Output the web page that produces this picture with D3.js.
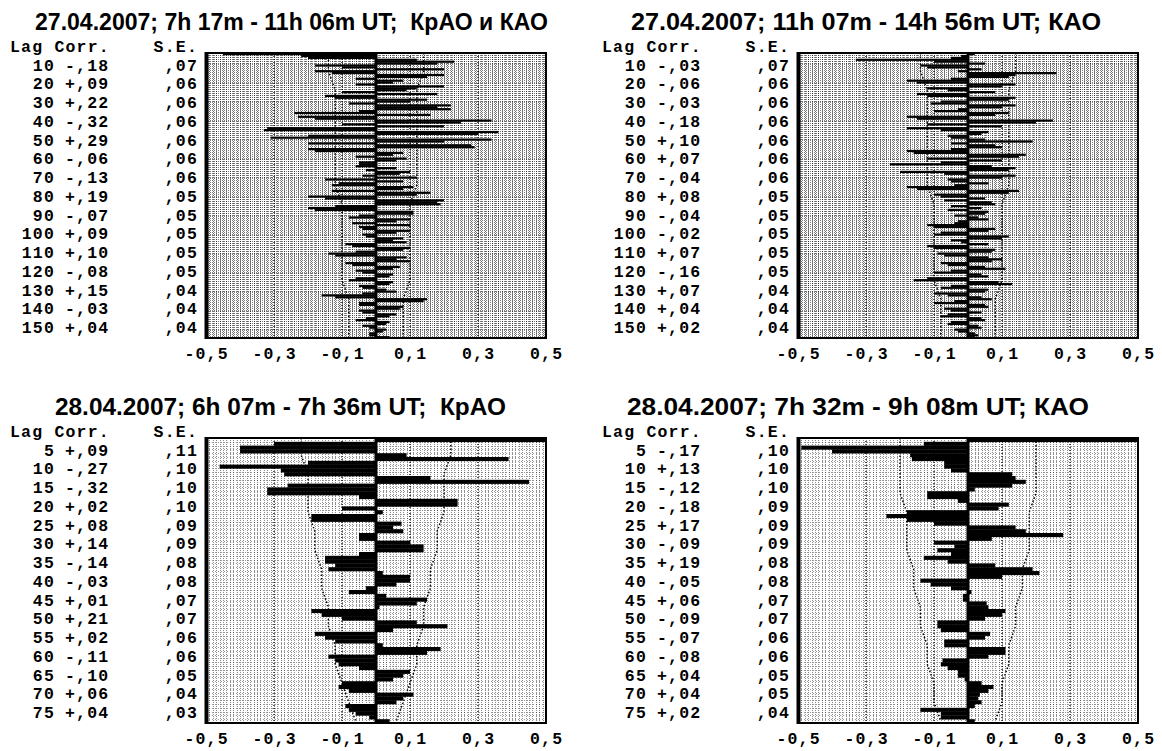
<!DOCTYPE html>
<html>
<head>
<meta charset="utf-8">
<script src="https://cdn.jsdelivr.net/npm/d3@7"></script>
<style>
  body { margin: 0; background: #fff; }
  svg { display: block; }
  .title { font-family: "Liberation Sans", Arial, sans-serif; font-weight: bold; font-size: 24px; white-space: pre; }
  .mono { font-family: "Liberation Mono", "Courier New", monospace; font-weight: bold; font-size: 16.5px; letter-spacing: 1.2px; }
</style>
</head>
<body>
<svg id="chart" width="1162" height="751"></svg>
<script>

// 1. Data

const titleTL = "27.04.2007; 7h 17m - 11h 06m UT;  КрАО и КАО"
const titleTR = "27.04.2007; 11h 07m - 14h 56m UT; КАО"
const titleBL = "28.04.2007; 6h 07m - 7h 36m UT;  КрАО"
const titleBR = "28.04.2007; 7h 32m - 9h 08m UT; КАО"

// autocorrelation per lag (1..150)
const corrTL = [
  -0.45, -0.22, -0.20, 0.12, 0.23, 0.18, -0.18, -0.10, 0.20, -0.18,
  -0.13, 0.20, 0.15, -0.06, 0.08, 0.05, -0.06, 0.20, 0.12, 0.09,
  -0.10, 0.18, -0.15, -0.12, 0.15, 0.10, -0.08, 0.22, 0.18, 0.22,
  -0.05, -0.24, 0.16, -0.23, -0.18, 0.34, 0.25, -0.10, 0.20, -0.32,
  -0.33, 0.36, 0.30, -0.20, -0.31, 0.34, 0.20, -0.20, 0.28, 0.29,
  -0.20, -0.18, 0.08, 0.05, -0.06, 0.09, 0.06, -0.05, -0.05, -0.06,
  0.06, -0.03, 0.10, 0.07, -0.04, 0.12, -0.15, 0.08, -0.11, -0.13,
  0.11, 0.08, -0.13, 0.16, 0.12, -0.20, -0.15, 0.20, 0.18, 0.19,
  -0.12, -0.20, -0.18, 0.11, 0.11, -0.05, -0.08, 0.10, 0.06, -0.07,
  0.10, -0.05, -0.04, 0.10, 0.06, -0.04, -0.03, 0.08, 0.05, 0.09,
  -0.09, -0.07, 0.10, 0.08, -0.06, -0.14, -0.12, 0.09, 0.06, 0.10,
  -0.09, -0.07, 0.07, 0.05, -0.06, -0.04, 0.05, 0.04, -0.06, -0.08,
  0.05, 0.04, -0.05, -0.04, 0.03, 0.06, -0.04, -0.16, -0.12, 0.15,
  0.14, -0.05, -0.05, 0.08, 0.07, -0.05, -0.04, 0.06, 0.04, -0.03,
  -0.06, 0.04, 0.03, -0.04, -0.02, 0.03, 0.02, -0.02, -0.02, 0.04
]
const corrTR = [
  0.02, -0.02, -0.05, -0.33, -0.10, 0.05, -0.14, -0.12, 0.04, -0.03,
  0.26, 0.14, 0.12, -0.05, -0.18, -0.15, 0.14, 0.10, -0.12, -0.06,
  0.08, -0.15, -0.12, 0.14, 0.12, -0.08, -0.11, 0.14, 0.10, -0.03,
  -0.10, 0.12, 0.08, -0.18, -0.15, 0.25, 0.20, -0.12, 0.10, -0.18,
  -0.08, 0.06, 0.04, -0.06, -0.05, 0.05, 0.19, -0.05, 0.08, 0.10,
  -0.05, -0.18, -0.16, 0.17, 0.15, -0.12, 0.10, -0.08, -0.23, 0.07,
  0.14, 0.12, -0.20, -0.07, 0.14, 0.10, -0.06, -0.05, 0.06, -0.04,
  -0.18, -0.15, 0.15, 0.12, -0.10, -0.08, 0.05, -0.07, 0.07, 0.08,
  -0.05, 0.04, -0.06, 0.06, 0.05, -0.04, 0.03, 0.06, -0.03, -0.04,
  -0.12, -0.10, 0.08, 0.06, -0.08, -0.10, 0.12, 0.10, -0.05, -0.02,
  0.06, -0.12, -0.10, 0.08, 0.07, -0.09, -0.07, 0.06, 0.10, 0.07,
  -0.08, -0.06, 0.05, 0.11, -0.05, -0.10, 0.04, 0.06, -0.12, -0.16,
  0.09, 0.13, -0.05, -0.08, 0.06, 0.05, -0.10, -0.06, 0.04, 0.07,
  -0.04, -0.10, 0.05, 0.06, -0.07, -0.05, 0.04, -0.06, -0.08, 0.04,
  0.05, -0.05, -0.06, 0.03, 0.04, -0.04, -0.03, 0.02, 0.03, 0.02
]
// autocorrelation per lag (1..75)
const corrBL = [
  0.62, -0.30, -0.40, -0.40, 0.09, 0.39, -0.20, -0.46, -0.28, -0.27,
  0.16, 0.45, -0.26, -0.32, -0.32, -0.05, 0.24, 0.24, -0.10, 0.02,
  -0.19, -0.19, 0.075, 0.05, 0.08, -0.05, -0.05, 0.10, 0.14, 0.14,
  -0.05, -0.15, -0.15, -0.12, -0.14, 0.02, 0.10, 0.10, 0.06, -0.03,
  -0.08, 0.03, 0.15, 0.12, 0.01, -0.19, -0.16, -0.10, 0.12, 0.21,
  0.05, -0.18, -0.15, -0.12, 0.02, 0.19, 0.15, -0.14, -0.12, -0.11,
  -0.05, 0.10, 0.08, 0.05, -0.10, -0.11, -0.08, 0.11, 0.08, 0.06,
  -0.09, -0.08, -0.06, -0.02, 0.04
]
const corrBR = [
  0.62, -0.13, -0.49, -0.40, -0.17, -0.165, -0.07, -0.07, -0.05, 0.13,
  0.14, 0.17, 0.13, 0.02, -0.12, -0.12, -0.03, 0.12, 0.09, -0.18,
  -0.24, -0.18, -0.10, 0.14, 0.17, 0.28, 0.07, -0.10, -0.04, -0.09,
  -0.05, -0.13, -0.06, 0.08, 0.19, 0.21, 0.10, -0.14, -0.11, -0.05,
  0.01, -0.015, -0.015, 0.055, 0.06, 0.11, 0.10, 0.05, -0.09, -0.09,
  -0.08, 0.065, 0.05, -0.07, -0.07, 0.11, 0.11, 0.06, -0.075, -0.08,
  -0.06, -0.03, -0.03, -0.01, 0.04, 0.075, 0.06, 0.035, 0.03, 0.04,
  0.02, -0.14, -0.08, -0.08, 0.02
]

// standard errors printed in the tables
const seTL = [0.07, 0.06, 0.06, 0.06, 0.06, 0.06, 0.06, 0.05, 0.05, 0.05, 0.05, 0.05, 0.04, 0.04, 0.04]
const seTR = [0.07, 0.06, 0.06, 0.06, 0.06, 0.06, 0.06, 0.05, 0.05, 0.05, 0.05, 0.05, 0.04, 0.04, 0.04]
const seBL = [0.11, 0.10, 0.10, 0.10, 0.09, 0.09, 0.08, 0.08, 0.07, 0.07, 0.06, 0.06, 0.05, 0.04, 0.03]
const seBR = [0.10, 0.10, 0.10, 0.09, 0.09, 0.09, 0.08, 0.08, 0.07, 0.07, 0.06, 0.06, 0.05, 0.05, 0.04]

const tickValues = [-0.5, -0.3, -0.1, 0.1, 0.3, 0.5]
const tickLabels = ["-0,5", "-0,3", "-0,1", "0,1", "0,3", "0,5"]

// 2. Dimensions

const plotW = 340
const plotH = 285

const panels = [
  { title: titleTL, corr: corrTL, se: seTL, step: 10, x0: 206, top: 53, titleX: 35, titleLen: 513 },
  { title: titleTR, corr: corrTR, se: seTR, step: 10, x0: 798, top: 53, titleX: 631, titleLen: 470 },
  { title: titleBL, corr: corrBL, se: seBL, step: 5, x0: 206, top: 438, titleX: 55, titleLen: 451 },
  { title: titleBR, corr: corrBR, se: seBR, step: 5, x0: 798, top: 438, titleX: 627, titleLen: 462 },
]

const svg = d3.select("#chart")

const fmtCorr = v => (v < 0 ? "-" : "+") + "," + d3.format("02d")(Math.round(Math.abs(v) * 100))
const fmtSE = v => "," + d3.format("02d")(Math.round(v * 100))

panels.forEach(drawPanel)

function drawPanel(p) {
  const n = p.corr.length
  const dense = n > 100
  const x = d3.scaleLinear().domain([-0.5, 0.5]).range([p.x0, p.x0 + plotW])
  const y = d3.scaleBand().domain(d3.range(1, n + 1)).range([p.top, p.top + plotH])
  const yc = lag => y(lag) + y.bandwidth() / 2
  const clamp = v => Math.max(-0.5, Math.min(0.5, v))

  const g = svg.append("g")

  // title
  g.append("text")
      .attr("class", "title")
      .attr("x", p.titleX)
      .attr("y", p.top - 23)
      .attr("textLength", p.titleLen)
      .attr("lengthAdjust", "spacingAndGlyphs")
      .text(p.title)

  // dotted background grid
  const grid = g.append("g").attr("shape-rendering", "crispEdges")
  grid.selectAll(".vgrid")
    .data(d3.range(-49, 50).map(i => i / 100))
    .join("line")
      .attr("x1", d => Math.round(x(d)) + 0.5)
      .attr("x2", d => Math.round(x(d)) + 0.5)
      .attr("y1", p.top)
      .attr("y2", p.top + plotH)
      .attr("stroke", "#000")
      .attr("stroke-opacity", dense ? 0.6 : 0.45)
      .attr("stroke-dasharray", "1,1")
  grid.selectAll(".hgrid")
    .data(d3.range(2, n + 1))
    .join("line")
      .attr("x1", p.x0)
      .attr("x2", p.x0 + plotW)
      .attr("y1", d => Math.round(y(d)) + 0.5)
      .attr("y2", d => Math.round(y(d)) + 0.5)
      .attr("stroke", "#000")
      .attr("stroke-opacity", dense ? 0.5 : 0.4)
      .attr("stroke-dasharray", dense ? "1,1" : "1,2")

  // major dotted verticals at the ticks
  g.selectAll(".major")
    .data(tickValues.slice(1, -1))
    .join("line")
      .attr("x1", d => x(d))
      .attr("x2", d => x(d))
      .attr("y1", p.top)
      .attr("y2", p.top + plotH)
      .attr("stroke", "#000")
      .attr("stroke-width", 1.3)
      .attr("stroke-dasharray", "1,2")

  // confidence limits, +-2 S.E.
  const conf = [[0.5, p.se[0]]].concat(p.se.map((s, i) => [p.step * (i + 1), s]))
  ;[-2, 2].forEach(k => {
    g.append("path")
        .attr("d", d3.line()
          .x(d => x(k * d[1]))
          .y(d => d[0] === 0.5 ? p.top : yc(d[0]))(conf))
        .attr("fill", "none")
        .attr("stroke", "#000")
        .attr("stroke-width", 1.5)
        .attr("stroke-dasharray", "1.5,2")
  })

  // bars
  g.append("g")
    .selectAll("rect")
    .data(p.corr)
    .join("rect")
      .attr("x", d => x(Math.min(0, clamp(d))))
      .attr("width", d => Math.abs(x(clamp(d)) - x(0)))
      .attr("y", (d, i) => y(i + 1))
      .attr("height", y.bandwidth() + 0.3)
      .attr("fill", "#000")

  // zero line
  g.append("line")
      .attr("x1", x(0)).attr("x2", x(0))
      .attr("y1", p.top).attr("y2", p.top + plotH)
      .attr("stroke", "#000")
      .attr("stroke-width", 3)

  // frame
  g.append("rect")
      .attr("x", p.x0)
      .attr("y", p.top)
      .attr("width", plotW)
      .attr("height", plotH)
      .attr("fill", "none")
      .attr("stroke", "#000")
      .attr("stroke-width", 2)
  g.append("line")
      .attr("x1", p.x0 + 0.5).attr("x2", p.x0 + 0.5)
      .attr("y1", p.top - 1).attr("y2", p.top + plotH + 1)
      .attr("stroke", "#000")
      .attr("stroke-width", 4)

  // table: Lag Corr. S.E.
  const rows = p.se.map((s, i) => ({ lag: p.step * (i + 1), corr: p.corr[p.step * (i + 1) - 1], se: s }))
  const rowY = i => p.top + 17.5 + i * 18.75
  g.append("text").attr("class", "mono").attr("x", p.x0 - 196).attr("y", p.top - 1.5).text("Lag Corr.")
  g.append("text").attr("class", "mono").attr("x", p.x0 - 8).attr("y", p.top - 1.5)
      .attr("text-anchor", "end").text("S.E.")
  const row = g.selectAll(".row").data(rows).join("g")
  row.append("text").attr("class", "mono")
      .attr("x", p.x0 - 151).attr("y", (d, i) => rowY(i))
      .attr("text-anchor", "end").text(d => d.lag)
  row.append("text").attr("class", "mono")
      .attr("x", p.x0 - 141).attr("y", (d, i) => rowY(i))
      .text(d => fmtCorr(d.corr))
  row.append("text").attr("class", "mono")
      .attr("x", p.x0 - 8).attr("y", (d, i) => rowY(i))
      .attr("text-anchor", "end").text(d => fmtSE(d.se))

  // axis labels
  g.selectAll(".tick")
    .data(tickValues)
    .join("text")
      .attr("class", "mono")
      .attr("x", d => x(d) + 0.6)
      .attr("y", p.top + plotH + 21)
      .attr("text-anchor", "middle")
      .text((d, i) => tickLabels[i])
}
</script>
</body>
</html>
